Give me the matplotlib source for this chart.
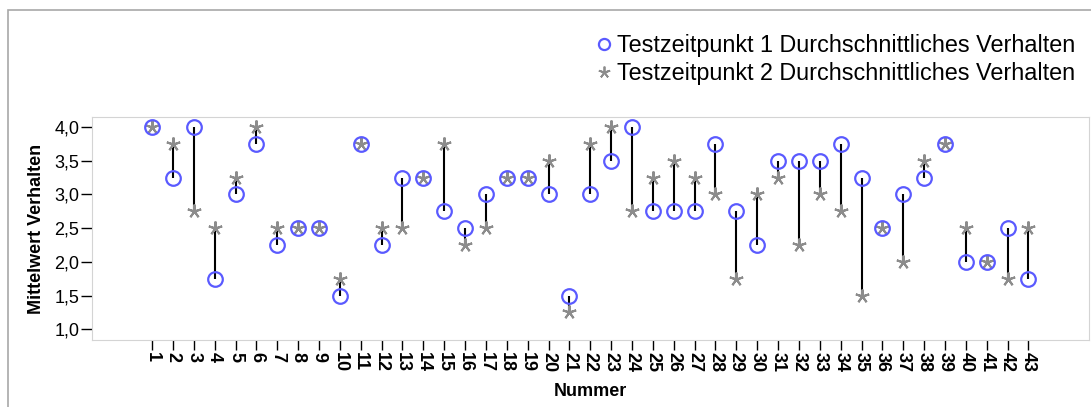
import matplotlib

matplotlib.use("Agg")
import matplotlib.pyplot as plt
from matplotlib.lines import Line2D
from matplotlib.patches import Rectangle

plt.rcParams["font.family"] = ["Liberation Sans", "DejaVu Sans"]

nummer = list(range(1, 44))
zeitpunkt_1 = [
    4.0, 3.25, 4.0, 1.75, 3.0, 3.75, 2.25, 2.5, 2.5, 1.5,
    3.75, 2.25, 3.25, 3.25, 2.75, 2.5, 3.0, 3.25, 3.25, 3.0,
    1.5, 3.0, 3.5, 4.0, 2.75, 2.75, 2.75, 3.75, 2.75, 2.25,
    3.5, 3.5, 3.5, 3.75, 3.25, 2.5, 3.0, 3.25, 3.75, 2.0,
    2.0, 2.5, 1.75,
]
zeitpunkt_2 = [
    4.0, 3.75, 2.75, 2.5, 3.25, 4.0, 2.5, 2.5, 2.5, 1.75,
    3.75, 2.5, 2.5, 3.25, 3.75, 2.25, 2.5, 3.25, 3.25, 3.5,
    1.25, 3.75, 4.0, 2.75, 3.25, 3.5, 3.25, 3.0, 1.75, 3.0,
    3.25, 2.25, 3.0, 2.75, 1.5, 2.5, 2.0, 3.5, 3.75, 2.5,
    2.0, 1.75, 2.5,
]
y_ticks = [1.0, 1.5, 2.0, 2.5, 3.0, 3.5, 4.0]
y_labels = ["1,0", "1,5", "2,0", "2,5", "3,0", "3,5", "4,0"]
label_1 = "Testzeitpunkt 1 Durchschnittliches Verhalten"
label_2 = "Testzeitpunkt 2 Durchschnittliches Verhalten"

BLUE = "#5a5aff"
GRAY = "#8c8c8c"
STAR = (5, 2, 0)  # five-armed asterisk

fig = plt.figure(figsize=(10.91, 4.07), dpi=100)
W, H = 1091, 407
ax = fig.add_axes([92 / W, 1 - 340 / H, (1089 - 92) / W, (340 - 117) / H])

# outer frame of the chart
fig.patches.append(
    Rectangle((8 / W, -0.1), 1.2, 1 - 10 / H + 0.1, transform=fig.transFigure,
              fill=False, edgecolor="#a8a8a8", linewidth=1.2)
)

ax.vlines(nummer, zeitpunkt_1, zeitpunkt_2, colors="black", linewidth=1.5, zorder=1)
ax.plot(nummer, zeitpunkt_2, linestyle="none", marker=STAR, markersize=10,
        markerfacecolor=GRAY, markeredgecolor=GRAY, markeredgewidth=1.5, zorder=2)
ax.plot(nummer, zeitpunkt_1, linestyle="none", marker="o", markersize=10.5,
        markerfacecolor="none", markeredgecolor=BLUE, markeredgewidth=1.6, zorder=3)

ax.set_xlim(-1.88, 45.9)
ax.set_ylim(0.84, 4.15)
ax.set_xticks(nummer)
ax.set_xticklabels([str(n) for n in nummer], rotation=-90, fontweight="bold", fontsize=13)
ax.set_yticks(y_ticks)
ax.set_yticklabels(y_labels, fontsize=13)
ax.tick_params(axis="x", length=7, width=1, pad=1.5)
ax.tick_params(axis="y", length=8, width=1, pad=1)
for s in ax.spines.values():
    s.set_color("#d4d4d4")
ax.set_xlabel("Nummer", fontweight="bold", fontsize=13)
ax.set_ylabel("Mittelwert Verhalten", fontweight="bold", fontsize=13)
ax.xaxis.set_label_coords(0.5, (340 - 383) / 223)
ax.yaxis.set_label_coords((45 - 92) / 997, 0.5)

handles = [
    Line2D([], [], linestyle="none", marker="o", markersize=8, markerfacecolor="none",
           markeredgecolor=BLUE, markeredgewidth=1.6),
    Line2D([], [], linestyle="none", marker=STAR, markersize=8.5,
           markerfacecolor=GRAY, markeredgecolor=GRAY, markeredgewidth=1.3),
]
fig.legend(handles, [label_1, label_2], loc="upper right", bbox_to_anchor=(1075 / W, 1 - 34 / H),
           frameon=False, fontsize=16.8, handlelength=0.6, handletextpad=0.25,
           labelspacing=0.2, borderpad=0, borderaxespad=0)

fig.savefig("out.png", dpi=100)
